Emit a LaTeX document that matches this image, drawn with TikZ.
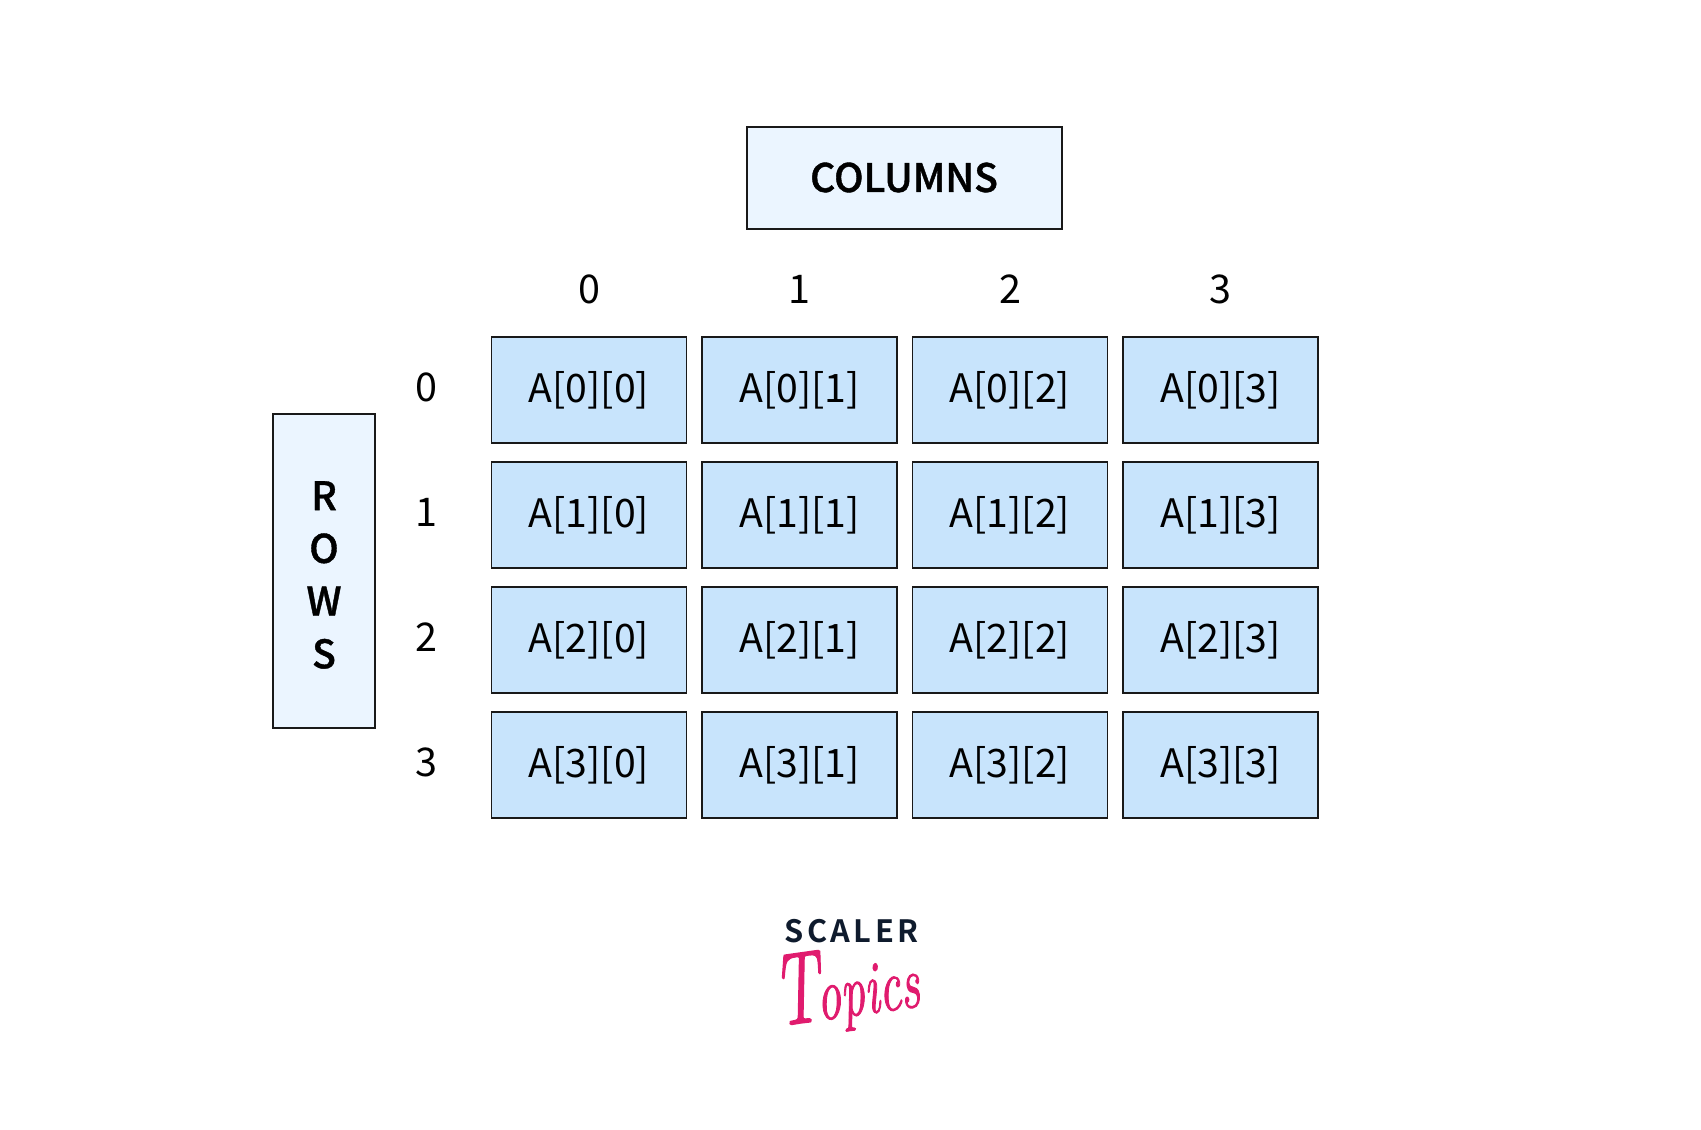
\documentclass[tikz,border=0pt]{standalone}
\usepackage{fontspec}
\setmainfont{Noto Sans CJK SC}[BoldFont={Noto Sans CJK SC Medium},BoldFeatures={FakeBold=1}]
\newfontfamily\logofont{Latin Modern Roman}[FakeBold=1.6]
\newfontfamily\brandfont{Noto Sans CJK SC Bold}[LetterSpace=11]
\usetikzlibrary{positioning}
\definecolor{cellblue}{HTML}{C8E4FC}
\definecolor{paleblue}{HTML}{EBF5FF}
\definecolor{logonavy}{HTML}{0F1B2D}
\definecolor{logopink}{HTML}{E01B6E}

\begin{document}
\begin{tikzpicture}[
    node distance=0.38cm and 0.31cm,
    cell/.style={rectangle, draw=black!90, line width=0.8pt, fill=cellblue, minimum width=3.9cm, minimum height=2.12cm, inner sep=0pt, outer sep=0pt, font=\fontsize{22.3}{26}\selectfont},
    headbox/.style={rectangle, draw=black!90, line width=0.8pt, fill=paleblue, inner sep=0pt, outer sep=0pt},
    headtext/.style={inner sep=0pt, outer sep=0pt, align=center, font=\fontsize{22.3}{30}\selectfont\bfseries},
    index/.style={inner sep=0pt, outer sep=0pt, text height=0.56cm, text depth=0pt, font=\fontsize{22.5}{26}\selectfont}
]
\useasboundingbox (0,0) rectangle (34.02,-22.6);

% First row
\node[cell] (a00) at (11.78,-7.80) {A[0][0]};
\foreach \c [remember=\c as \p (initially 0)] in {1,2,3}
    \node[cell, right=of a0\p] (a0\c) {A[0][\c]};

% Remaining rows
\foreach \r [remember=\r as \q (initially 0)] in {1,2,3} {
    \node[cell, below=of a\q0] (a\r0) {A[\r][0]};
    \foreach \c [remember=\c as \p (initially 0)] in {1,2,3}
        \node[cell, right=of a\r\p] (a\r\c) {A[\r][\c]};
}

% Indices
\foreach \c in {0,1,2,3}
    \node[index, above=0.68cm of a0\c] (col\c) {\c};
\foreach \r in {0,1,2,3}
    \node[index, left=1.08cm of a\r0, yshift=0.05cm] (row\r) {\r};

% Header boxes
\node[headbox, minimum width=6.3cm, minimum height=2.04cm] (columns) at (18.09,-3.56) {};
\node[headtext, yshift=0.01cm, xshift=-0.01cm] (columnstext) at (columns) {COLUMNS};
\node[headbox, minimum width=2.04cm, minimum height=6.28cm] (rows) at (6.48,-11.42) {};
\node[headtext, yshift=-0.08cm] (rowstext) at (rows) {R\\O\\W\\S};

% Logo
\node[inner sep=0pt, text=logonavy, font=\fontsize{17.5}{18}\brandfont] (scaler) at (17.03,-18.62) {SCALER};
\node[inner sep=0pt, text=logopink, rotate=8, xscale=0.72, yscale=1.12, transform shape, font=\fontsize{38}{40}\logofont\itshape] (topics) at (16.92,-19.78) {{\fontsize{52}{56}\selectfont T}\kern-0.08em opics};

\end{tikzpicture}
\end{document}
